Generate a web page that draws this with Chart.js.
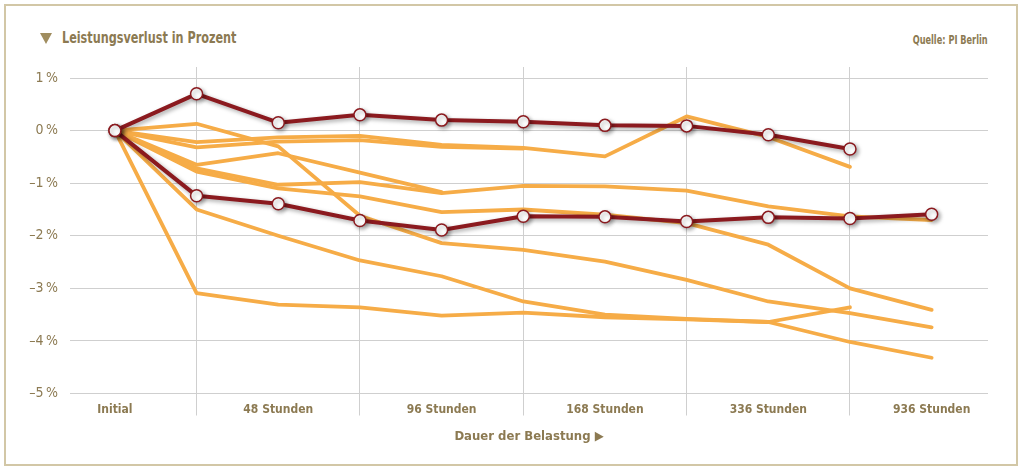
<!DOCTYPE html>
<html>
<head>
<meta charset="utf-8">
<script src="https://cdn.jsdelivr.net/npm/chart.js@4"></script>
<style>
  html, body { margin: 0; padding: 0; background: #fff; }
  body { width: 1024px; height: 471px; position: relative; overflow: hidden;
         font-family: "Liberation Sans Narrow", "DejaVu Sans Condensed", "Roboto", sans-serif; }
  .frame { position: absolute; left: 4px; top: 4px; width: 1014px; height: 462px;
           border: 2px solid #d2c7a6; box-sizing: border-box; }
  .tri { position: absolute; left: 40px; top: 33px; width: 0; height: 0;
         border-left: 6px solid transparent; border-right: 6px solid transparent;
         border-top: 11px solid #a08d5f; }
  .title { position: absolute; left: 62px; top: 28px; font-size: 16px; font-weight: bold; color: #8c7a52;
           transform: scaleX(0.78); transform-origin: left center; white-space: nowrap; }
  .source { position: absolute; right: 36px; top: 33px; font-size: 12px; font-weight: bold; color: #8c7a52;
            transform: scaleX(0.76); transform-origin: right center; white-space: nowrap; }
  .wrap { position: absolute; left: 0; top: 0; width: 1024px; height: 471px; }
</style>
</head>
<body>
<div class="frame"></div>
<div class="tri"></div>
<div class="title">Leistungsverlust in Prozent</div>
<div class="source">Quelle: PI Berlin</div>
<div class="wrap"><canvas id="lossChart"></canvas></div>
<script>
// Messzeitpunkte (Beschriftung nur an jedem zweiten Punkt)
const zeitpunkte = ["Initial", "", "48 Stunden", "", "96 Stunden", "", "168 Stunden", "", "336 Stunden", "", "936 Stunden"]
const yTicks = [1, 0, -1, -2, -3, -4, -5]

// hervorgehobene Module (dunkelrot)
const modulRot1 = [0, 0.70, 0.15, 0.30, 0.20, 0.17, 0.10, 0.09, -0.08, -0.35, null]
const modulRot2 = [0, -1.24, -1.39, -1.71, -1.89, -1.63, -1.64, -1.73, -1.65, -1.67, -1.59]

// übrige Module (orange)
const modulA = [0, -0.72, -1.03, -0.98, -1.19, -1.05, -1.06, -1.14, -1.44, -1.63, -1.70]
const modulB = [0, -0.78, -1.10, -1.25, -1.55, -1.50, -1.60, -1.76, -2.17, -3.00, -3.41]
const modulC = [0, 0.13, -0.30, -1.62, -2.14, -2.27, -2.49, -2.84, -3.25, -3.47, -3.74]
const modulD = [0, -1.50, -2.00, -2.47, -2.77, -3.25, -3.50, -3.58, -3.64, -4.02, -4.32]
const modulE = [0, -0.22, -0.13, -0.10, -0.27, -0.33, -0.49, 0.27, -0.12, -0.69, null]
const modulF = [0, -3.09, -3.31, -3.36, -3.52, -3.46, -3.55, -3.59, -3.64, -3.36, null]
const modulG = [0, -0.65, -0.43, -0.80, -1.17, null, null, null, null, null, null]
const modulH = [0, -0.32, -0.21, -0.18, -0.31, -0.34, null, null, null, null, null]

const ROT = "#8b1a1f"
const ORANGE = "#f6ac47"
const TEXT = "#8c7a52"
const GRID = "#cfcfcf"

const toPoints = (arr) => arr.map((v, i) => ({ x: i, y: v })).filter((p) => p.y !== null)

const redSet = (arr) => ({
  data: toPoints(arr),
  borderColor: ROT,
  borderWidth: 4,
  pointRadius: 6,
  pointBackgroundColor: "#ffffff",
  pointBorderColor: ROT,
  pointBorderWidth: 1.5,
  borderJoinStyle: "round",
  tension: 0,
  order: 0,
  isRed: true,
})

const orangeSet = (arr) => ({
  data: toPoints(arr),
  borderColor: ORANGE,
  borderWidth: 3.8,
  pointRadius: 0,
  borderJoinStyle: "round",
  borderCapStyle: "round",
  tension: 0,
  order: 1,
})

// leichter Schatten unter den roten Linien
const shadowPlugin = {
  id: "shadow",
  beforeDatasetDraw(chart, args) {
    if (!chart.data.datasets[args.index].isRed) return
    const ctx = chart.ctx
    ctx.save()
    ctx.shadowColor = "rgba(0,0,0,0.35)"
    ctx.shadowBlur = 4
    ctx.shadowOffsetX = 2
    ctx.shadowOffsetY = 2
  },
  afterDatasetDraw(chart, args) {
    if (!chart.data.datasets[args.index].isRed) return
    chart.ctx.restore()
  },
}

const fontFam = '"Liberation Sans Narrow", "DejaVu Sans Condensed", Roboto, sans-serif'

new Chart(document.getElementById("lossChart"), {
  type: "line",
  data: {
    datasets: [
      redSet(modulRot1),
      redSet(modulRot2),
      orangeSet(modulA),
      orangeSet(modulB),
      orangeSet(modulC),
      orangeSet(modulD),
      orangeSet(modulE),
      orangeSet(modulF),
      orangeSet(modulG),
      orangeSet(modulH),
    ],
  },
  options: {
    responsive: true,
    maintainAspectRatio: false,
    animation: false,
    layout: { padding: { left: 0, right: 36, top: 67, bottom: 17.5 } },
    plugins: {
      legend: { display: false },
      tooltip: { enabled: false },
    },
    scales: {
      x: {
        type: "linear",
        min: -0.55,
        max: 10.69,
        afterBuildTicks: (scale) => {
          scale.ticks = zeitpunkte.map((_, i) => ({ value: i }))
        },
        afterFit: (scale) => {
          scale.height = 60
        },
        grid: {
          color: (c) => (c.tick && c.tick.value % 2 === 1 ? GRID : "rgba(0,0,0,0)"),
          lineWidth: 1,
          drawTicks: true,
          tickLength: 22,
        },
        border: { display: false },
        ticks: {
          autoSkip: false,
          maxRotation: 0,
          padding: -13,
          color: TEXT,
          font: { family: fontFam, size: 12, weight: "bold" },
          callback: (v) => zeitpunkte[v] || "",
        },
        title: {
          display: true,
          text: "Dauer der Belastung ▶",
          color: TEXT,
          font: { family: fontFam, size: 13, weight: "bold" },
          padding: { top: 0, bottom: 9 },
        },
      },
      y: {
        min: -5,
        max: 1.21,
        afterBuildTicks: (scale) => {
          scale.ticks = yTicks.map((v) => ({ value: v }))
        },
        afterFit: (scale) => {
          scale.width = 70
        },
        grid: { color: GRID, lineWidth: 1, drawTicks: false },
        border: { display: false },
        ticks: {
          padding: 12,
          color: TEXT,
          font: { family: fontFam, size: 14 },
          callback: (v) => (v < 0 ? "–" : "") + Math.abs(v) + "\u2009%",
        },
      },
    },
  },
  plugins: [shadowPlugin],
})
</script>
</body>
</html>
